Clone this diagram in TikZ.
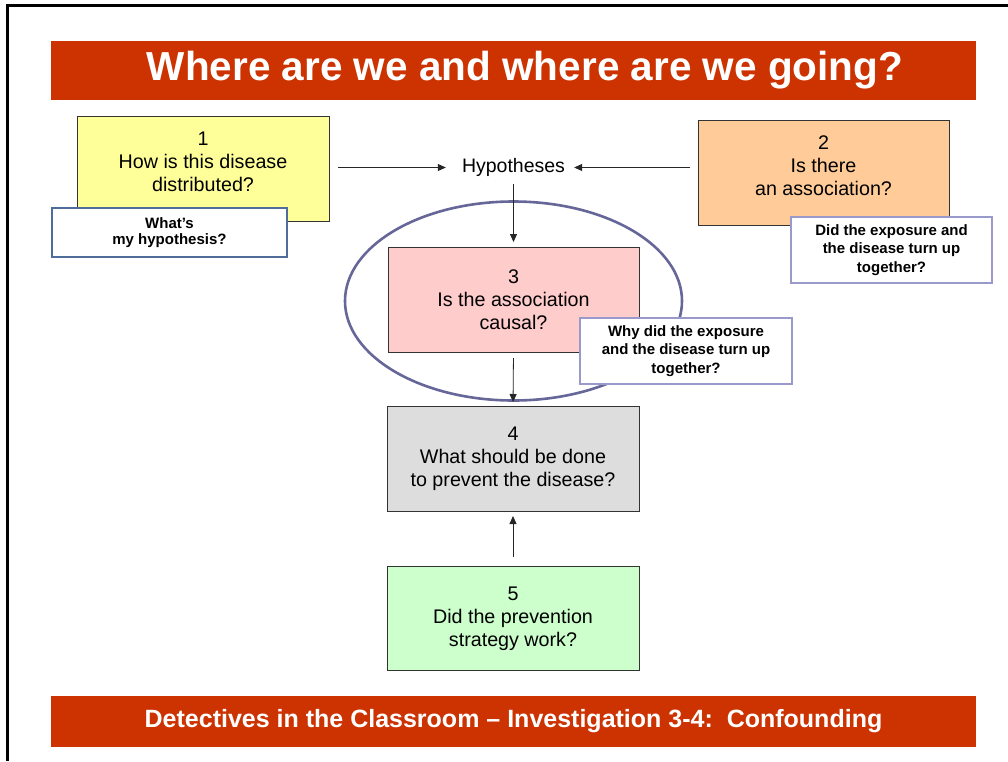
\documentclass[tikz,border=0pt]{standalone}
\usepackage{fontspec}
\setmainfont{Liberation Sans}
\usetikzlibrary{arrows.meta,shapes.geometric}

\definecolor{banner}{HTML}{CC3300}
\definecolor{qyellow}{HTML}{FFFF99}
\definecolor{qorange}{HTML}{FFCC99}
\definecolor{qpink}{HTML}{FFCCCC}
\definecolor{qgray}{HTML}{DDDDDD}
\definecolor{qgreen}{HTML}{CCFFCC}
\definecolor{ovalline}{HTML}{666699}
\definecolor{noteblue}{HTML}{4F6D9A}
\definecolor{notelav}{HTML}{9999CC}
\definecolor{boxline}{HTML}{333333}

\begin{document}
\begin{tikzpicture}[x=1pt,y=-1pt,
  bannerbar/.style={fill=banner, inner sep=0pt, outer sep=0pt, text=white,
    font=\bfseries},
  qbox/.style={draw=boxline, line width=0.8pt, inner sep=0pt, outer sep=0pt,
    minimum width=252, minimum height=105},
  qtext/.style={align=center, inner sep=0pt, font=\fontsize{19.7}{23}\selectfont},
  notebox/.style={fill=white, line width=1.2pt, inner sep=0pt, outer sep=0pt,
    align=center, font=\fontsize{15}{18.5}\selectfont\bfseries},
  arr/.style={draw=black!85, line width=0.8pt,
    -{Triangle[length=8pt,width=7pt]}}
]
\useasboundingbox (0,0) rectangle (1008,761);
\fill[white] (0,0) rectangle (1008,761);

% page frame (top and left edges)
\draw[line width=2.6pt] (7.5,761) -- (7.5,5.5) -- (1008,5.5);

% title and footer banners
\node[bannerbar, minimum width=925, minimum height=59] (title) at (513.5,70.5) {};
\node[inner sep=0pt, text=white,
  font=\fontsize{40.5}{44}\selectfont\bfseries] (titletext) at (525,70.5)
  {Where are we and where are we going?};
\node[bannerbar, minimum width=925, minimum height=51,
  font=\fontsize{25}{28}\selectfont\bfseries] (footer) at (513.5,721.5)
  {Detectives in the Classroom -- Investigation 3-4:\ \ Confounding};

% oval around step 3
\node[draw=ovalline, line width=2.6pt, ellipse, inner sep=0pt,
  minimum width=337, minimum height=199] (oval) at (513.5,301) {};

% question boxes
\node[qbox, fill=qyellow] (b1) at (203,168.5) {};
\node[qtext] (t1) at (203,162) {1\\How is this disease\\distributed?};

\node[qbox, fill=qorange, minimum width=251] (b2) at (823.5,172.5) {};
\node[qtext] (t2) at (823.5,166) {2\\Is there\\an association?};

\node[qbox, fill=qpink, minimum width=251] (b3) at (513.5,299.5) {};
\node[qtext] (t3) at (513.5,300) {3\\Is the association\\causal?};

\node[qbox, fill=qgray] (b4) at (513,458.5) {};
\node[qtext] (t4) at (513,459) {4\\What should be done\\to prevent the disease?};

\node[qbox, fill=qgreen, minimum height=104] (b5) at (513,618) {};
\node[qtext] (t5) at (513,618.5) {5\\Did the prevention\\ strategy work?};

% hypotheses hub
\node[inner sep=0pt, font=\fontsize{19.5}{23}\selectfont] (hyp) at (513.5,167.5) {Hypotheses};

% connectors
\draw[arr, shorten <=9pt, shorten >=16pt] (b1.east |- hyp) -- (hyp.west);
\draw[arr, shorten <=8pt, shorten >=9pt] (b2.west |- hyp) -- (hyp.east);
\draw[arr, shorten <=7pt, shorten >=5pt] (hyp.south) -- (b3.north);
\draw[arr, shorten <=6pt, shorten >=4pt] (b3.south) -- (b4.north);
\draw[arr, shorten <=9pt, shorten >=5pt] (b5.north) -- (b4.south);

% call-out notes
\node[notebox, draw=noteblue, minimum width=235, minimum height=49,
  font=\fontsize{15}{16}\selectfont\bfseries] (n1) at (169.5,232.5)
  {What’s\\my hypothesis?};
\node[notebox, draw=notelav, minimum width=201, minimum height=66] (n2)
  at (891.5,250) {Did the exposure and\\the disease turn up\\together?};
\node[notebox, draw=notelav, minimum width=212, minimum height=66] (n3)
  at (686,351) {Why did the exposure\\and the disease turn up\\together?};
\end{tikzpicture}
\end{document}
